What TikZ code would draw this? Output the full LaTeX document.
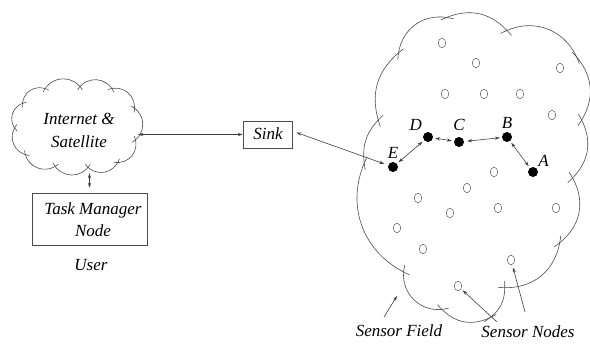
\documentclass[tikz,border=0pt]{standalone}
\usepackage{fontspec}
\setmainfont{Liberation Serif}
\usetikzlibrary{arrows.meta,shapes.geometric}

\tikzset{
  txt/.style={font=\fontsize{17}{20}\selectfont\itshape, inner sep=0pt, align=center},
  cloudline/.style={draw=black!70, line width=0.6pt, shorten <=-7pt, shorten >=-7pt},
  boxed/.style={draw=black!70, line width=0.6pt, inner sep=0pt},
  link/.style={draw=black!75, line width=0.6pt, {Stealth[length=5pt,width=3.2pt]}-{Stealth[length=5pt,width=3.2pt]}},
  pointer/.style={draw=black!75, line width=0.6pt, -{Stealth[length=5pt,width=3.2pt]}},
  dot/.style={circle, fill=black, inner sep=0pt, minimum size=10pt},
  hollow/.style={ellipse, draw=black!65, line width=0.5pt, inner sep=0pt, minimum width=7.5pt, minimum height=9.5pt},
  lettr/.style={font=\fontsize{17}{20}\selectfont\itshape, inner sep=0pt}
}

\begin{document}
\begin{tikzpicture}[x=1pt,y=-1pt]
\useasboundingbox (0,0) rectangle (590,345);

% ---------- Internet & Satellite cloud ----------
\node[minimum width=126pt, minimum height=90pt, inner sep=0pt] (inet) at (75,128) {};
\coordinate (q1) at (22,103);
\coordinate (q2) at (45,88);
\coordinate (q3) at (80,86);
\coordinate (q4) at (112,88);
\coordinate (q5) at (135,108);
\coordinate (q6) at (136,140);
\coordinate (q7) at (118,163);
\coordinate (q8) at (88,168);
\coordinate (q9) at (55,167);
\coordinate (q10) at (25,155);
\coordinate (q11) at (14,128);
\foreach \a/\b in {q1/q2,q2/q3,q3/q4,q4/q5,q5/q6,q6/q7,q7/q8,q8/q9,q9/q10,q10/q11,q11/q1}
  \draw[cloudline, shorten <=-4.5pt, shorten >=-4.5pt] (\a) to[bend left=62] (\b);
\node[txt] (inettxt) at (79,130) {Internet \&\\[3pt]Satellite};

% ---------- Task manager and user ----------
\node[boxed, minimum width=115pt, minimum height=52pt] (tm) at (89.5,219) {};
\node[txt] (tmtxt) at (93,220) {Task Manager\\[2pt]Node};
\node[txt] (user) at (91,265) {User};

% ---------- Sink ----------
\node[boxed, minimum width=49pt, minimum height=27pt] (sink) at (267.5,134.5) {};
\node[txt] (sinktxt) at (268,134) {Sink};

% ---------- Sensor field outline ----------
\coordinate (s1) at (447,17);
\coordinate (s2) at (507,30);
\coordinate (s3) at (577,57);
\coordinate (s4) at (582,120);
\coordinate (s5) at (573,178);
\coordinate (s6) at (560,243);
\coordinate (s7) at (505,288);
\coordinate (s8) at (490,318);
\coordinate (s9) at (442,310);
\coordinate (s10) at (403,272);
\coordinate (s11) at (364,163);
\coordinate (s12) at (378,120);
\coordinate (s13) at (398,53);
\foreach \a/\b/\bb in {s1/s2/38,s2/s3/50,s3/s4/40,s4/s5/40,s5/s6/46,s6/s7/45,
                       s7/s8/30,s8/s9/40,s9/s10/60,s10/s11/46,s11/s12/28,s12/s13/36,s13/s1/52}
  \draw[cloudline] (\a) to[bend left=\bb] (\b);

% ---------- Sensor nodes ----------
\foreach \i/\p in {1/{442,43},2/{476,63},3/{560,68},4/{445,94},5/{484,94},6/{520,94},
                   7/{552,115},8/{494,172},9/{467,188},10/{418,198},11/{450,213},
                   12/{498,208},13/{556,208},14/{397,228},15/{423,249},16/{511,260},17/{458,286}}
  \node[hollow] (n\i) at (\p) {};

% ---------- Routing path ----------
\node[dot, label={[lettr, label distance=3pt]above:E}] (E) at (393,167) {};
\node[dot, label={[lettr, label distance=3pt]above left:D}] (D) at (428,137) {};
\node[dot, label={[lettr, label distance=6pt]above:C}] (C) at (459,142) {};
\node[dot, label={[lettr, label distance=3pt]above:B}] (B) at (507,137) {};
\node[dot, label={[lettr, label distance=2pt]above right:A}] (A) at (533,172) {};

\draw[link, shorten <=2pt, shorten >=2pt] (E) -- (D);
\draw[link, shorten <=2pt, shorten >=2pt] (D) -- (C);
\draw[link, shorten <=3pt, shorten >=2pt] (C) -- (B);
\draw[link, shorten <=2pt, shorten >=2pt] (B) -- (A);

% ---------- Links to the sink and the user side ----------
\draw[link] (inet.east |- sink.west) -- (sink.west);
\draw[link, shorten >=4pt] (sink.east) ++(4pt,2pt) -- (E);
\draw[link, shorten <=5pt] (tm.north) -- (tm.north |- inet.south);

% ---------- Legend labels ----------
\node[txt] (sf) at (399,331) {Sensor Field};
\node[txt] (sn) at (528,332) {Sensor Nodes};
\coordinate (sfp) at (384,317);
\coordinate (snp1) at (497,322);
\coordinate (snp2) at (525,312);
\draw[pointer] (sfp) -- (397,296);
\draw[pointer, shorten >=2pt] (snp1) -- (n17);
\draw[pointer, shorten >=3pt] (snp2) -- (n16);
\end{tikzpicture}
\end{document}
